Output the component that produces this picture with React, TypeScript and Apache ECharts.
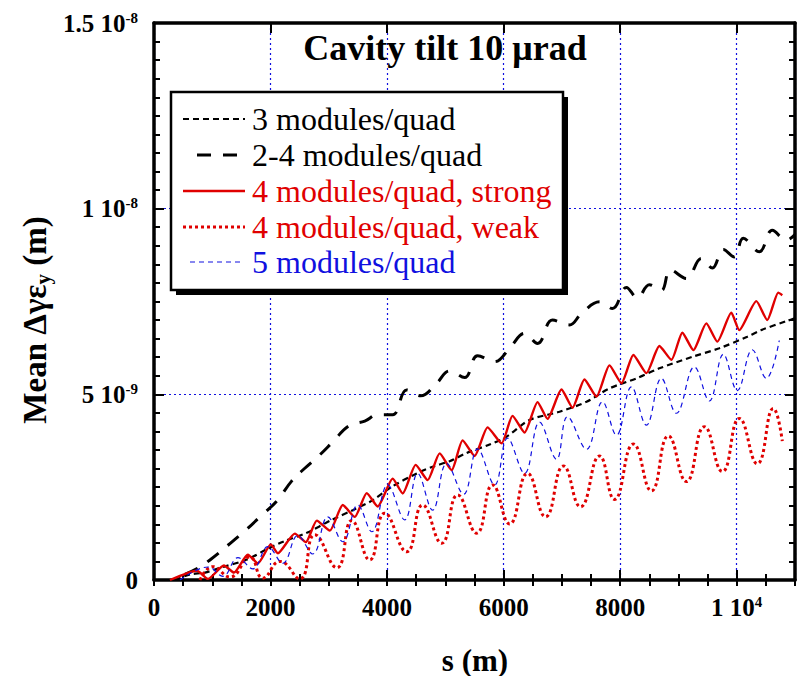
import React, { useEffect, useRef } from 'react';
import * as echarts from 'echarts';

// s positions in metres, values in units of 1e-9 m
const sThree = [360, 617, 874, 1183, 1594, 1937, 2245, 2622, 3051, 3411, 3754, 4079, 4508, 4782, 5073, 5365, 5759, 6050, 6445, 6959, 7422, 7816, 8279, 8673, 9239, 9701, 10181, 10421, 10867, 11000];
const vThree = [0, 0.15, 0.2, 0.35, 0.55, 0.83, 1.05, 1.27, 1.62, 1.88, 2.15, 2.51, 2.87, 3.05, 3.2, 3.42, 3.65, 3.86, 4.31, 4.53, 4.8, 5.16, 5.43, 5.7, 6.01, 6.24, 6.55, 6.73, 6.98, 7.05];

const sTwoFour = [531, 788, 960, 1303, 1594, 1817, 2108, 2365, 2588, 2845, 3068, 3342, 3617, 3839, 4096, 4336, 4576, 4851, 5073, 5331, 5553, 5845, 6102, 6359, 6582, 6839, 7130, 7336, 7645, 7868, 8107, 8296, 8501, 8707, 8862, 9136, 9393, 9582, 9770, 9958, 10113, 10387, 10610, 10850, 11000];
const vTwoFour = [0.15, 0.35, 0.54, 0.98, 1.37, 1.7, 2.13, 2.67, 3.01, 3.37, 3.72, 4.15, 4.28, 4.45, 4.45, 5.12, 4.96, 5.3, 5.63, 5.45, 6.04, 5.88, 6.24, 6.64, 6.37, 7.0, 6.87, 7.18, 7.49, 7.31, 7.88, 7.6, 7.95, 7.8, 8.35, 8.12, 8.66, 8.4, 8.9, 8.7, 9.2, 8.84, 9.42, 9.15, 9.3];

const sStrong = [274, 737, 926, 1200, 1371, 1611, 1783, 2005, 2125, 2417, 2605, 2794, 3017, 3240, 3445, 3651, 3839, 4096, 4268, 4491, 4696, 4902, 5108, 5296, 5502, 5725, 5965, 6153, 6359, 6582, 6753, 6993, 7182, 7387, 7593, 7816, 8022, 8227, 8450, 8673, 8879, 9067, 9256, 9478, 9667, 9907, 10044, 10336, 10524, 10713, 10782];
const vStrong = [0, 0.25, 0.03, 0.39, 0.2, 0.68, 0.45, 0.96, 0.72, 1.25, 1.02, 1.6, 1.33, 2.02, 1.7, 2.34, 1.98, 2.73, 2.33, 3.1, 2.69, 3.41, 2.96, 3.76, 3.34, 4.11, 3.68, 4.42, 3.97, 4.79, 4.34, 5.13, 4.64, 5.4, 4.94, 5.78, 5.3, 6.06, 5.57, 6.3, 5.93, 6.66, 6.19, 6.91, 6.42, 7.2, 6.73, 7.51, 7.0, 7.74, 7.67];

const sWeak = [788, 1011, 1303, 1645, 1868, 2160, 2502, 2760, 3137, 3394, 3702, 3959, 4336, 4611, 4936, 5211, 5536, 5811, 6102, 6410, 6719, 7027, 7319, 7645, 7902, 8227, 8536, 8827, 9136, 9445, 9754, 10045, 10353, 10628, 10782];
const vWeak = [0, 0.36, 0.08, 0.62, 0.05, 0.5, 0.03, 1.22, 0.33, 1.6, 0.54, 1.8, 0.76, 2.02, 0.99, 2.29, 1.26, 2.56, 1.51, 2.87, 1.7, 3.07, 1.97, 3.34, 2.17, 3.66, 2.4, 3.88, 2.65, 4.13, 2.92, 4.35, 3.13, 4.62, 3.74];

const sFive = [446, 926, 1183, 1440, 1697, 1954, 2211, 2468, 2725, 2982, 3240, 3497, 3737, 4011, 4302, 4525, 4782, 5022, 5313, 5553, 5845, 6068, 6359, 6616, 6907, 7096, 7422, 7696, 7936, 8193, 8450, 8707, 8964, 9273, 9530, 9770, 10010, 10267, 10507, 10730];
const vFive = [0, 0.35, 0.1, 0.6, 0.3, 0.9, 0.45, 1.2, 0.7, 1.7, 1.03, 2.02, 1.3, 2.56, 1.62, 2.87, 1.88, 3.14, 2.31, 3.53, 2.56, 3.82, 2.87, 4.25, 3.25, 4.4, 3.52, 4.8, 3.9, 5.2, 4.17, 5.43, 4.49, 5.74, 4.82, 6.08, 5.1, 6.2, 5.43, 6.45];

const xTicks = [0, 2000, 4000, 6000, 8000, 10000];
const yTickText: Record<number, string> = { 0: '{b|0}', 5: '{b|5 10}{sup|-9}', 10: '{b|1 10}{sup|-8}', 15: '{b|1.5 10}{sup|-8}' };

const seriesNames = ['3 modules/quad', '2-4 modules/quad', '4 modules/quad, strong', '4 modules/quad, weak', '5 modules/quad'];

const RED = '#e00000';
const BLUE = '#1010e0';
const SERIF = '"Liberation Serif", "Times New Roman", serif';

const zip = (a: number[], b: number[]) => a.map((v, i) => [v, b[i]]);

export default function App() {
  const ref = useRef<HTMLDivElement>(null);
  useEffect(() => {
    if (!ref.current) return;
    const chart = echarts.init(ref.current, null, { renderer: 'svg' });

    const styles = [
      { color: '#000', width: 2.2, type: [6, 4] as any, smooth: 0.3, data: zip(sThree, vThree), legendText: '#000', sample: [183, 245] },
      { color: '#000', width: 3, type: [14, 12] as any, smooth: 0.4, data: zip(sTwoFour, vTwoFour), legendText: '#000', sample: [197, 245] },
      { color: RED, width: 2.4, type: 'solid' as any, smooth: 0.2, data: zip(sStrong, vStrong), legendText: RED, sample: [183, 245] },
      { color: RED, width: 3, type: [3, 3] as any, smooth: 0.5, data: zip(sWeak, vWeak), legendText: RED, sample: [183, 245] },
      { color: BLUE, width: 1.2, type: [5, 4] as any, smooth: 0.4, data: zip(sFive, vFive), legendText: BLUE, sample: [190, 242] },
    ];

    const rowY = [119, 155, 191, 227, 262];
    const legendEls: any[] = [
      { type: 'rect', shape: { x: 176, y: 97, width: 392, height: 198 }, style: { fill: '#000' }, z: 100 },
      { type: 'rect', shape: { x: 171, y: 92, width: 392, height: 198 }, style: { fill: '#fff', stroke: '#000', lineWidth: 2.5 }, z: 101 },
    ];
    seriesNames.forEach((n, i) => {
      const s = styles[i];
      legendEls.push({
        type: 'line', z: 102,
        shape: { x1: s.sample[0], y1: rowY[i], x2: s.sample[1], y2: rowY[i] },
        style: { stroke: s.color, lineWidth: s.width, lineDash: s.type === 'solid' ? null : s.type },
      });
      legendEls.push({
        type: 'text', z: 102, x: 252, y: rowY[i],
        style: { text: n, font: `32px ${SERIF}`, fill: s.legendText, align: 'left', verticalAlign: 'middle' },
      });
    });

    const tickLine = { show: true, inside: true, length: 10, lineStyle: { color: '#000', width: 2 } };
    const minorLine = { show: true, inside: true, length: 6, lineStyle: { color: '#000', width: 2 } };
    const axisLine = { show: true, onZero: false, lineStyle: { color: '#000', width: 3.5 } };
    const grid = { show: true, lineStyle: { color: BLUE, width: 1.2, type: [2, 3] as any } };

    const option: any = {
      animation: false,
      grid: { left: 154, right: 1, top: 23, bottom: 96, containLabel: false },
      xAxis: [
        {
          type: 'value', min: 0, max: 11000, interval: 2000, position: 'bottom',
          axisLine, axisTick: tickLine, splitLine: grid,
          axisLabel: {
            margin: 14,
            formatter: (v: number) => (xTicks.includes(v) ? (v === 10000 ? '{b|1 10}{sup|4}' : `{b|${v}}`) : ''),
            rich: {
              b: { fontFamily: SERIF, fontWeight: 'bold', fontSize: 25, color: '#000', lineHeight: 26 },
              sup: { fontFamily: SERIF, fontWeight: 'bold', fontSize: 15, color: '#000', verticalAlign: 'top', lineHeight: 15 },
            },
          },
        },
        { type: 'value', min: 0, max: 11000, interval: 500, position: 'bottom', axisLine: { show: false }, axisTick: minorLine, axisLabel: { show: false }, splitLine: { show: false } },
        { type: 'value', min: 0, max: 11000, interval: 2000, position: 'top', axisLine, axisTick: tickLine, axisLabel: { show: false }, splitLine: { show: false } },
        { type: 'value', min: 0, max: 11000, interval: 500, position: 'top', axisLine: { show: false }, axisTick: minorLine, axisLabel: { show: false }, splitLine: { show: false } },
      ],
      yAxis: [
        {
          type: 'value', min: 0, max: 15, interval: 5, position: 'left',
          axisLine, axisTick: tickLine, splitLine: grid,
          minorTick: { show: true, splitNumber: 10, length: 6, lineStyle: { color: '#000', width: 2 } },
          axisLabel: {
            margin: 16,
            formatter: (v: number) => yTickText[v] ?? '',
            rich: {
              b: { fontFamily: SERIF, fontWeight: 'bold', fontSize: 25, color: '#000', lineHeight: 26 },
              sup: { fontFamily: SERIF, fontWeight: 'bold', fontSize: 15, color: '#000', verticalAlign: 'top', lineHeight: 15 },
            },
          },
        },
        {
          type: 'value', min: 0, max: 15, interval: 5, position: 'right',
          axisLine, axisTick: tickLine, splitLine: { show: false }, axisLabel: { show: false },
          minorTick: { show: true, splitNumber: 10, length: 6, lineStyle: { color: '#000', width: 2 } },
        },
      ],
      series: styles.map((s, i) => ({
        name: seriesNames[i], type: 'line', showSymbol: false, smooth: s.smooth, data: s.data,
        xAxisIndex: 0, yAxisIndex: 0, clip: true,
        lineStyle: { color: s.color, width: s.width, type: s.type },
        z: 5 + i,
      })),
      graphic: [
        {
          type: 'text', x: 445, y: 48, z: 50,
          style: { text: 'Cavity tilt 10 μrad', font: `bold 36px ${SERIF}`, fill: '#000', align: 'center', verticalAlign: 'middle' },
        },
        {
          type: 'text', x: 35, y: 320, rotation: Math.PI / 2, z: 50,
          style: {
            text: '{a|Mean Δγε}{s|y}{a| (m)}', align: 'center', verticalAlign: 'middle',
            rich: {
              a: { fontFamily: SERIF, fontWeight: 'bold', fontSize: 33, fill: '#000', lineHeight: 36, verticalAlign: 'middle' },
              s: { fontFamily: SERIF, fontWeight: 'bold', fontSize: 21, fill: '#000', lineHeight: 36, verticalAlign: 'bottom' },
            },
          },
        },
        {
          type: 'text', x: 475, y: 660, z: 50,
          style: { text: 's (m)', font: `bold 31px ${SERIF}`, fill: '#000', align: 'center', verticalAlign: 'middle' },
        },
        ...legendEls,
      ],
    };
    chart.setOption(option);
    return () => chart.dispose();
  }, []);
  return <div ref={ref} style={{ position: 'fixed', left: 0, top: 0, width: 798, height: 676, background: '#fff' }} />;
}
